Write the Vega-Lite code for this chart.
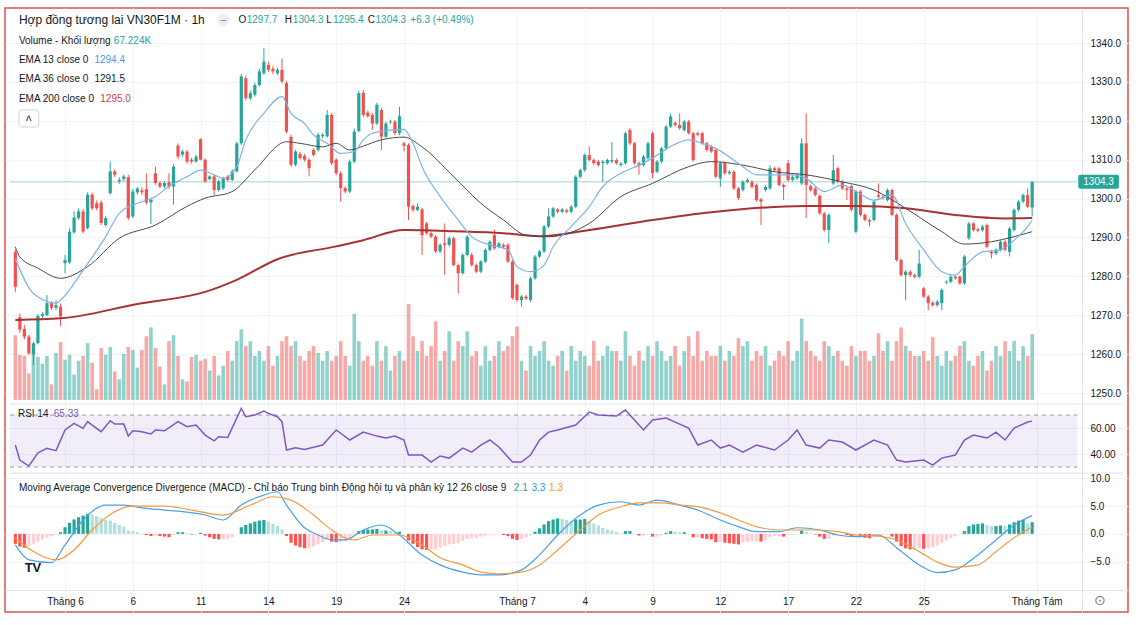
{
"$schema":"https://vega.github.io/schema/vega-lite/v6.json",
"width":1147,"height":625,
"autosize":{"type":"fit","contains":"padding"},
"padding":{"left":5,"top":8,"right":19,"bottom":13},
"background":"white",
"config":{"view":{"stroke":"#d9534f","strokeWidth":1.5},"font":"Liberation Sans"},
"datasets":{
"bars":[
{"i":0,"o":1286.3,"h":1287,"l":1276,"c":1277.3,"v":66,"m":-1.8},
{"i":1,"o":1269.5,"h":1270.5,"l":1265.5,"c":1266.3,"v":46,"m":-2.3},
{"i":2,"o":1266.5,"h":1267.5,"l":1263.8,"c":1264.5,"v":45,"m":-2.5},
{"i":3,"o":1264.5,"h":1265,"l":1259.8,"c":1260.2,"v":27,"m":-2.2},
{"i":4,"o":1260,"h":1263.2,"l":1257.2,"c":1262.8,"v":48,"m":-1.8},
{"i":5,"o":1262.8,"h":1270.3,"l":1262.5,"c":1269.8,"v":44,"m":-1.4},
{"i":6,"o":1269.8,"h":1270.8,"l":1269.2,"c":1270.3,"v":37,"m":-1},
{"i":7,"o":1270,"h":1275.2,"l":1269.8,"c":1273.1,"v":45,"m":-0.7},
{"i":8,"o":1273.1,"h":1273.6,"l":1271.4,"c":1271.9,"v":16,"m":-0.4},
{"i":9,"o":1271.9,"h":1273.8,"l":1271.3,"c":1272.6,"v":48,"m":-0.2},
{"i":10,"o":1272.2,"h":1273,"l":1267.2,"c":1269.7,"v":59,"m":0.3},
{"i":11,"o":1283.4,"h":1285.5,"l":1280.8,"c":1284.2,"v":41,"m":1.2},
{"i":12,"o":1283.6,"h":1292.4,"l":1283.2,"c":1291.5,"v":46,"m":2},
{"i":13,"o":1291.3,"h":1296.7,"l":1291,"c":1295.1,"v":26,"m":2.6},
{"i":14,"o":1295,"h":1297.5,"l":1294.5,"c":1296.7,"v":40,"m":3},
{"i":15,"o":1296.7,"h":1297.3,"l":1291,"c":1291.5,"v":45,"m":3.3},
{"i":16,"o":1292.4,"h":1301.6,"l":1292,"c":1301,"v":58,"m":3.6},
{"i":17,"o":1301,"h":1301.5,"l":1297,"c":1297.5,"v":38,"m":3.5},
{"i":18,"o":1298.8,"h":1299.5,"l":1297,"c":1297.5,"v":11,"m":3.2},
{"i":19,"o":1299,"h":1299.5,"l":1293.2,"c":1293.7,"v":53,"m":2.9},
{"i":20,"o":1293.2,"h":1295.5,"l":1292.8,"c":1295,"v":46,"m":2.5},
{"i":21,"o":1301.4,"h":1309.5,"l":1301,"c":1307,"v":54,"m":2.4},
{"i":22,"o":1307,"h":1307.5,"l":1305.5,"c":1306.1,"v":29,"m":2},
{"i":23,"o":1304.4,"h":1305.5,"l":1303.8,"c":1304.8,"v":21,"m":1.6},
{"i":24,"o":1305,"h":1306.2,"l":1304.5,"c":1305.7,"v":47,"m":1.3},
{"i":25,"o":1305.5,"h":1306.1,"l":1294.5,"c":1295,"v":54,"m":0.6},
{"i":26,"o":1295.4,"h":1302.5,"l":1295,"c":1301.8,"v":51,"m":0.5},
{"i":27,"o":1301.6,"h":1303,"l":1301,"c":1302.6,"v":33,"m":0.3},
{"i":28,"o":1302.1,"h":1302.8,"l":1300.9,"c":1301.6,"v":51,"m":0.1},
{"i":29,"o":1302.4,"h":1306.5,"l":1298.4,"c":1299,"v":65,"m":-0.2},
{"i":30,"o":1299,"h":1300.2,"l":1293.4,"c":1299.7,"v":74,"m":-0.4},
{"i":31,"o":1306.5,"h":1308.2,"l":1303.5,"c":1304,"v":53,"m":-0.3},
{"i":32,"o":1304,"h":1304.4,"l":1302.6,"c":1303.1,"v":34,"m":-0.4},
{"i":33,"o":1303.1,"h":1304.4,"l":1302.7,"c":1304,"v":16,"m":-0.5},
{"i":34,"o":1304.2,"h":1306.5,"l":1302.5,"c":1303.1,"v":60,"m":-0.6},
{"i":35,"o":1303.1,"h":1308.8,"l":1298.4,"c":1308.2,"v":66,"m":-0.2},
{"i":36,"o":1313.6,"h":1314.2,"l":1310.2,"c":1310.8,"v":45,"m":0.3},
{"i":37,"o":1311.3,"h":1312.5,"l":1310.8,"c":1312.1,"v":21,"m":0.3},
{"i":38,"o":1312.1,"h":1312.5,"l":1309,"c":1309.5,"v":19,"m":0.1},
{"i":39,"o":1310,"h":1310.5,"l":1309,"c":1309.5,"v":44,"m":-0.1},
{"i":40,"o":1309.5,"h":1311.2,"l":1309.2,"c":1310.8,"v":46,"m":-0.1},
{"i":41,"o":1315.3,"h":1315.5,"l":1309.8,"c":1310,"v":40,"m":0.2},
{"i":42,"o":1310,"h":1310.3,"l":1304,"c":1304.4,"v":42,"m":-0.3},
{"i":43,"o":1305,"h":1306,"l":1304.7,"c":1305.7,"v":30,"m":-0.6},
{"i":44,"o":1305.7,"h":1306,"l":1300.9,"c":1302.2,"v":45,"m":-0.9},
{"i":45,"o":1302.2,"h":1304.8,"l":1301.8,"c":1304.4,"v":25,"m":-1},
{"i":46,"o":1302.6,"h":1305.6,"l":1302.2,"c":1305.2,"v":35,"m":-1},
{"i":47,"o":1305.7,"h":1306,"l":1304.4,"c":1304.8,"v":50,"m":-0.9},
{"i":48,"o":1304.8,"h":1307.5,"l":1304.5,"c":1307,"v":40,"m":-0.6},
{"i":49,"o":1307,"h":1314.6,"l":1306.7,"c":1314.2,"v":60,"m":0},
{"i":50,"o":1314.2,"h":1332,"l":1313.8,"c":1331.4,"v":72,"m":1.2},
{"i":51,"o":1330.9,"h":1331.6,"l":1325.2,"c":1325.8,"v":55,"m":1.6},
{"i":52,"o":1325.8,"h":1327.8,"l":1325.3,"c":1327.1,"v":60,"m":1.9},
{"i":53,"o":1326.7,"h":1329.8,"l":1326.2,"c":1329.2,"v":45,"m":2.2},
{"i":54,"o":1329.2,"h":1333.3,"l":1328.8,"c":1332.7,"v":50,"m":2.4},
{"i":55,"o":1332.2,"h":1338.7,"l":1331.8,"c":1335.2,"v":40,"m":2.5},
{"i":56,"o":1334.4,"h":1335.2,"l":1332.5,"c":1333.1,"v":55,"m":2.2},
{"i":57,"o":1333.4,"h":1334,"l":1332,"c":1332.7,"v":35,"m":1.8},
{"i":58,"o":1332.2,"h":1333.6,"l":1331.7,"c":1333.1,"v":45,"m":1.4},
{"i":59,"o":1333.1,"h":1336,"l":1329.6,"c":1330.1,"v":60,"m":0.8},
{"i":60,"o":1329.7,"h":1330.2,"l":1316.8,"c":1317.2,"v":65,"m":-0.4},
{"i":61,"o":1315.9,"h":1316.4,"l":1308.2,"c":1308.7,"v":55,"m":-1.6},
{"i":62,"o":1308.7,"h":1312.5,"l":1308.3,"c":1312.1,"v":60,"m":-2.1},
{"i":63,"o":1311.5,"h":1312,"l":1310,"c":1310.4,"v":45,"m":-2.4},
{"i":64,"o":1311,"h":1311.5,"l":1309.5,"c":1310,"v":40,"m":-2.6},
{"i":65,"o":1310,"h":1310.4,"l":1305.7,"c":1307.8,"v":50,"m":-2.6},
{"i":66,"o":1312.5,"h":1313,"l":1310.8,"c":1311.2,"v":55,"m":-2.3},
{"i":67,"o":1312.5,"h":1316.9,"l":1312.1,"c":1316.4,"v":48,"m":-1.9},
{"i":68,"o":1316,"h":1316.9,"l":1315.5,"c":1316.4,"v":40,"m":-1.5},
{"i":69,"o":1316,"h":1322.8,"l":1315.6,"c":1321.5,"v":50,"m":-1},
{"i":70,"o":1321.5,"h":1322,"l":1308.6,"c":1309.1,"v":40,"m":-1.4},
{"i":71,"o":1310,"h":1310.4,"l":1306,"c":1306.5,"v":45,"m":-1.5},
{"i":72,"o":1306.5,"h":1307,"l":1299.2,"c":1302.7,"v":60,"m":-1.5},
{"i":73,"o":1302.7,"h":1303.2,"l":1301.3,"c":1301.8,"v":45,"m":-1.3},
{"i":74,"o":1301.8,"h":1310,"l":1301.4,"c":1309.5,"v":35,"m":-0.8},
{"i":75,"o":1309.5,"h":1318,"l":1309.1,"c":1317.2,"v":88,"m":-0.2},
{"i":76,"o":1317.4,"h":1327.7,"l":1317,"c":1327.1,"v":60,"m":0.5},
{"i":77,"o":1327.2,"h":1327.9,"l":1321,"c":1321.5,"v":40,"m":0.7},
{"i":78,"o":1322.1,"h":1322.6,"l":1320.8,"c":1321.2,"v":45,"m":0.8},
{"i":79,"o":1321.5,"h":1322,"l":1317.6,"c":1319.3,"v":35,"m":0.8},
{"i":80,"o":1319.3,"h":1324.6,"l":1318.9,"c":1324.1,"v":60,"m":0.9},
{"i":81,"o":1322.8,"h":1323.3,"l":1312.5,"c":1315.9,"v":40,"m":0.6},
{"i":82,"o":1315.9,"h":1319.8,"l":1315.5,"c":1319.3,"v":55,"m":0.6},
{"i":83,"o":1319.6,"h":1320.3,"l":1319.2,"c":1319.8,"v":30,"m":0.5},
{"i":84,"o":1319.8,"h":1320.2,"l":1316.3,"c":1316.8,"v":45,"m":0.3},
{"i":85,"o":1316.8,"h":1323.6,"l":1316.3,"c":1321.2,"v":50,"m":0.4},
{"i":86,"o":1314.2,"h":1314.6,"l":1312.1,"c":1313.6,"v":40,"m":0},
{"i":87,"o":1313.8,"h":1314.2,"l":1294.5,"c":1297.9,"v":98,"m":-1.2},
{"i":88,"o":1298.1,"h":1298.5,"l":1296.6,"c":1297.1,"v":65,"m":-1.8},
{"i":89,"o":1297.1,"h":1298.8,"l":1296.8,"c":1297.9,"v":50,"m":-2.4},
{"i":90,"o":1297.2,"h":1297.6,"l":1285.5,"c":1290.6,"v":60,"m":-2.8},
{"i":91,"o":1293.6,"h":1294,"l":1290.7,"c":1291.1,"v":45,"m":-2.9},
{"i":92,"o":1291.1,"h":1291.5,"l":1289.8,"c":1290.2,"v":55,"m":-2.8},
{"i":93,"o":1290.2,"h":1290.6,"l":1286,"c":1286.4,"v":80,"m":-2.8},
{"i":94,"o":1286.4,"h":1288.5,"l":1286,"c":1288.1,"v":40,"m":-2.5},
{"i":95,"o":1288.5,"h":1293.6,"l":1280.4,"c":1288.1,"v":50,"m":-2.2},
{"i":96,"o":1288.1,"h":1290.2,"l":1287.7,"c":1289.8,"v":70,"m":-1.9},
{"i":97,"o":1289.8,"h":1290.2,"l":1282.5,"c":1282.9,"v":40,"m":-1.8},
{"i":98,"o":1282.9,"h":1283.3,"l":1275.6,"c":1280.8,"v":60,"m":-1.7},
{"i":99,"o":1280.8,"h":1285.9,"l":1280.4,"c":1285.5,"v":55,"m":-1.3},
{"i":100,"o":1285.5,"h":1290.6,"l":1285.1,"c":1290.2,"v":70,"m":-0.9},
{"i":101,"o":1285.5,"h":1286,"l":1282.5,"c":1282.9,"v":45,"m":-0.8},
{"i":102,"o":1282.9,"h":1283.3,"l":1280.8,"c":1281.2,"v":50,"m":-0.7},
{"i":103,"o":1281.2,"h":1284.2,"l":1280.8,"c":1283.8,"v":35,"m":-0.5},
{"i":104,"o":1283.8,"h":1287.2,"l":1283.4,"c":1286.8,"v":55,"m":-0.3},
{"i":105,"o":1286.8,"h":1289.3,"l":1286.4,"c":1288.9,"v":40,"m":-0.1},
{"i":106,"o":1290.6,"h":1292,"l":1286.8,"c":1287.2,"v":45,"m":-0.1},
{"i":107,"o":1287.6,"h":1288.9,"l":1287.2,"c":1288.5,"v":60,"m":-0.1},
{"i":108,"o":1288.1,"h":1288.5,"l":1287.2,"c":1287.6,"v":50,"m":-0.2},
{"i":109,"o":1288.1,"h":1288.5,"l":1283.4,"c":1283.8,"v":55,"m":-0.4},
{"i":110,"o":1283.8,"h":1284.2,"l":1274,"c":1274.4,"v":65,"m":-0.9},
{"i":111,"o":1277.8,"h":1278.2,"l":1273.5,"c":1273.9,"v":75,"m":-1.1},
{"i":112,"o":1273.9,"h":1275.2,"l":1272.2,"c":1274.8,"v":40,"m":-0.9},
{"i":113,"o":1274.8,"h":1275.2,"l":1273.9,"c":1274.3,"v":30,"m":-0.7},
{"i":114,"o":1273.9,"h":1279.9,"l":1273.5,"c":1279.5,"v":55,"m":-0.3},
{"i":115,"o":1279.5,"h":1285.5,"l":1279.1,"c":1285.1,"v":45,"m":0.4},
{"i":116,"o":1285.1,"h":1286.8,"l":1284.7,"c":1286.4,"v":50,"m":1},
{"i":117,"o":1286.4,"h":1293.2,"l":1286,"c":1292.8,"v":60,"m":1.7},
{"i":118,"o":1292.8,"h":1297.5,"l":1292.4,"c":1295.4,"v":40,"m":2.3},
{"i":119,"o":1295.4,"h":1297.9,"l":1295,"c":1297.5,"v":35,"m":2.6},
{"i":120,"o":1297.2,"h":1297.6,"l":1296.2,"c":1296.6,"v":45,"m":2.8},
{"i":121,"o":1296.6,"h":1297.6,"l":1296.2,"c":1297.2,"v":50,"m":2.7},
{"i":122,"o":1297,"h":1297.4,"l":1296.2,"c":1296.6,"v":30,"m":2.5},
{"i":123,"o":1296.6,"h":1298.3,"l":1296.2,"c":1297.9,"v":55,"m":2.3},
{"i":124,"o":1297.9,"h":1306,"l":1297.5,"c":1305.6,"v":40,"m":2.6},
{"i":125,"o":1305.6,"h":1307.7,"l":1305.2,"c":1307.3,"v":50,"m":2.6},
{"i":126,"o":1307.3,"h":1311.6,"l":1306.9,"c":1311.2,"v":45,"m":2.7},
{"i":127,"o":1311.2,"h":1313.4,"l":1309.5,"c":1309.9,"v":35,"m":2.3},
{"i":128,"o":1309.9,"h":1310.3,"l":1308.7,"c":1309.1,"v":60,"m":1.9},
{"i":129,"o":1309.5,"h":1309.9,"l":1308.2,"c":1308.6,"v":40,"m":1.5},
{"i":130,"o":1309.1,"h":1309.9,"l":1304.3,"c":1309.5,"v":45,"m":1.1},
{"i":131,"o":1309.1,"h":1310.3,"l":1308.7,"c":1309.9,"v":55,"m":0.8},
{"i":132,"o":1309.5,"h":1314.6,"l":1309.1,"c":1309.9,"v":50,"m":0.6},
{"i":133,"o":1309.9,"h":1310.3,"l":1308.7,"c":1309.1,"v":50,"m":0.3},
{"i":134,"o":1308.6,"h":1309.4,"l":1308.2,"c":1309,"v":40,"m":0.1},
{"i":135,"o":1309.1,"h":1317.2,"l":1308.7,"c":1316.8,"v":70,"m":0.5},
{"i":136,"o":1317.6,"h":1318.1,"l":1313.8,"c":1314.2,"v":45,"m":0.5},
{"i":137,"o":1314.2,"h":1314.6,"l":1308.7,"c":1309.1,"v":35,"m":0.1},
{"i":138,"o":1309.1,"h":1309.5,"l":1306.1,"c":1308.4,"v":50,"m":-0.3},
{"i":139,"o":1308.6,"h":1311.2,"l":1308.2,"c":1310.8,"v":40,"m":-0.3},
{"i":140,"o":1310.4,"h":1314.6,"l":1310,"c":1314.2,"v":55,"m":-0.1},
{"i":141,"o":1316.8,"h":1317.2,"l":1305.2,"c":1306.5,"v":45,"m":-0.5},
{"i":142,"o":1306.9,"h":1309.9,"l":1306.5,"c":1309.5,"v":60,"m":-0.5},
{"i":143,"o":1309.5,"h":1313.3,"l":1309.1,"c":1312.9,"v":50,"m":-0.3},
{"i":144,"o":1312.9,"h":1318.9,"l":1312.5,"c":1318.5,"v":40,"m":0.2},
{"i":145,"o":1318.5,"h":1321.9,"l":1318.1,"c":1321.1,"v":45,"m":0.5},
{"i":146,"o":1319.5,"h":1319.9,"l":1318.5,"c":1318.9,"v":55,"m":0.4},
{"i":147,"o":1318.9,"h":1321.9,"l":1317.7,"c":1318.1,"v":35,"m":0.3},
{"i":148,"o":1317.6,"h":1320.2,"l":1317.2,"c":1319.8,"v":50,"m":0.3},
{"i":149,"o":1319.8,"h":1320.2,"l":1316.4,"c":1316.8,"v":65,"m":0},
{"i":150,"o":1316.8,"h":1317.2,"l":1309.5,"c":1309.9,"v":45,"m":-0.6},
{"i":151,"o":1316.8,"h":1317.2,"l":1316,"c":1316.4,"v":70,"m":-0.6},
{"i":152,"o":1316.8,"h":1317.2,"l":1313.8,"c":1314.2,"v":40,"m":-0.8},
{"i":153,"o":1314.2,"h":1314.6,"l":1312.1,"c":1312.5,"v":50,"m":-0.9},
{"i":154,"o":1313.4,"h":1313.8,"l":1311.7,"c":1312.1,"v":45,"m":-1},
{"i":155,"o":1312.5,"h":1312.9,"l":1305.2,"c":1305.6,"v":45,"m":-1.5},
{"i":156,"o":1305.2,"h":1309.5,"l":1303,"c":1309.1,"v":55,"m":-1.5},
{"i":157,"o":1309.1,"h":1309.5,"l":1306.1,"c":1306.5,"v":40,"m":-1.6},
{"i":158,"o":1306.5,"h":1307.3,"l":1306.1,"c":1306.9,"v":50,"m":-1.7},
{"i":159,"o":1306.9,"h":1307.3,"l":1302.2,"c":1302.6,"v":45,"m":-1.8},
{"i":160,"o":1302.6,"h":1303,"l":1299.6,"c":1300.1,"v":63,"m":-1.9},
{"i":161,"o":1302.2,"h":1304.7,"l":1301.8,"c":1304.3,"v":55,"m":-1.6},
{"i":162,"o":1304.3,"h":1305.2,"l":1303.9,"c":1304.8,"v":60,"m":-1.4},
{"i":163,"o":1304.3,"h":1304.7,"l":1302.6,"c":1303,"v":40,"m":-1.3},
{"i":164,"o":1303.5,"h":1303.9,"l":1299.2,"c":1299.6,"v":50,"m":-1.3},
{"i":165,"o":1299.8,"h":1300.2,"l":1293.2,"c":1299.2,"v":45,"m":-1.4},
{"i":166,"o":1302.2,"h":1303.4,"l":1301.8,"c":1303,"v":55,"m":-1.1},
{"i":167,"o":1302.6,"h":1308.6,"l":1302.2,"c":1307.8,"v":35,"m":-0.6},
{"i":168,"o":1307.8,"h":1308.2,"l":1306.9,"c":1307.3,"v":40,"m":-0.4},
{"i":169,"o":1307.8,"h":1308.2,"l":1303.1,"c":1303.5,"v":50,"m":-0.4},
{"i":170,"o":1303.5,"h":1303.9,"l":1299.6,"c":1303,"v":45,"m":-0.5},
{"i":171,"o":1309.1,"h":1309.9,"l":1304.4,"c":1304.8,"v":60,"m":-0.2},
{"i":172,"o":1304.8,"h":1306,"l":1304.4,"c":1305.6,"v":40,"m":-0.1},
{"i":173,"o":1305.2,"h":1306.5,"l":1304.8,"c":1306.1,"v":50,"m":0},
{"i":174,"o":1303.9,"h":1315.5,"l":1303.5,"c":1314.2,"v":83,"m":0.6},
{"i":175,"o":1314.2,"h":1321.9,"l":1295,"c":1303.5,"v":60,"m":0.3},
{"i":176,"o":1303.2,"h":1303.6,"l":1301.8,"c":1302.2,"v":50,"m":0.1},
{"i":177,"o":1302.6,"h":1303,"l":1300.5,"c":1300.9,"v":45,"m":-0.1},
{"i":178,"o":1300.7,"h":1301.1,"l":1295.8,"c":1296.2,"v":40,"m":-0.5},
{"i":179,"o":1296.2,"h":1296.6,"l":1291.5,"c":1291.9,"v":60,"m":-0.9},
{"i":180,"o":1291.9,"h":1296.2,"l":1288.5,"c":1295.8,"v":55,"m":-0.9},
{"i":181,"o":1303.9,"h":1311.2,"l":1303.5,"c":1307.3,"v":45,"m":-0.3},
{"i":182,"o":1307.8,"h":1308.2,"l":1303.9,"c":1304.3,"v":50,"m":-0.1},
{"i":183,"o":1304.3,"h":1304.7,"l":1302.2,"c":1302.6,"v":40,"m":-0.1},
{"i":184,"o":1302.6,"h":1303,"l":1299.6,"c":1302.2,"v":35,"m":-0.2},
{"i":185,"o":1303.2,"h":1303.6,"l":1296.7,"c":1297.1,"v":55,"m":-0.5},
{"i":186,"o":1291.5,"h":1302.2,"l":1291.1,"c":1301.8,"v":45,"m":-0.3},
{"i":187,"o":1301.8,"h":1302.2,"l":1295.4,"c":1295.8,"v":50,"m":-0.5},
{"i":188,"o":1295.8,"h":1296.2,"l":1294.1,"c":1294.5,"v":50,"m":-0.7},
{"i":189,"o":1294.5,"h":1294.9,"l":1292.8,"c":1294.1,"v":40,"m":-0.8},
{"i":190,"o":1294.5,"h":1299.6,"l":1294.1,"c":1299.2,"v":45,"m":-0.5},
{"i":191,"o":1300.9,"h":1303.9,"l":1300.1,"c":1300.5,"v":68,"m":-0.3},
{"i":192,"o":1300.5,"h":1300.9,"l":1299.7,"c":1300.1,"v":50,"m":-0.2},
{"i":193,"o":1299.6,"h":1302.6,"l":1299.2,"c":1302.2,"v":60,"m":-0.1},
{"i":194,"o":1302.2,"h":1302.6,"l":1295.4,"c":1295.8,"v":40,"m":-0.5},
{"i":195,"o":1295.8,"h":1296.2,"l":1283.8,"c":1284.2,"v":60,"m":-1.4},
{"i":196,"o":1284.2,"h":1284.6,"l":1279.9,"c":1280.3,"v":74,"m":-2.2},
{"i":197,"o":1280.3,"h":1281.6,"l":1273.9,"c":1281.2,"v":55,"m":-2.6},
{"i":198,"o":1281.2,"h":1281.6,"l":1279.9,"c":1280.3,"v":50,"m":-2.8},
{"i":199,"o":1280.3,"h":1280.7,"l":1279.5,"c":1279.9,"v":45,"m":-2.8},
{"i":200,"o":1279.9,"h":1286.8,"l":1279.5,"c":1283.3,"v":45,"m":-2.6},
{"i":201,"o":1276.9,"h":1277.3,"l":1274.4,"c":1274.8,"v":50,"m":-2.7},
{"i":202,"o":1274.8,"h":1275.2,"l":1271.3,"c":1273.1,"v":40,"m":-2.6},
{"i":203,"o":1273.2,"h":1273.6,"l":1272.2,"c":1272.6,"v":64,"m":-2.4},
{"i":204,"o":1272.6,"h":1273.9,"l":1272.2,"c":1273.5,"v":45,"m":-2.1},
{"i":205,"o":1273.1,"h":1276.9,"l":1271.3,"c":1276.5,"v":35,"m":-1.6},
{"i":206,"o":1278.4,"h":1279,"l":1278,"c":1278.6,"v":50,"m":-1.2},
{"i":207,"o":1278.6,"h":1280.3,"l":1278.2,"c":1279.9,"v":40,"m":-0.8},
{"i":208,"o":1279.9,"h":1280.3,"l":1279.1,"c":1279.5,"v":45,"m":-0.4},
{"i":209,"o":1279.9,"h":1280.3,"l":1277.8,"c":1278.2,"v":55,"m":-0.1},
{"i":210,"o":1278.2,"h":1285.5,"l":1277.8,"c":1285.1,"v":60,"m":0.5},
{"i":211,"o":1289.8,"h":1294,"l":1289.4,"c":1293.6,"v":40,"m":1.4},
{"i":212,"o":1293.6,"h":1294,"l":1291.5,"c":1291.9,"v":35,"m":1.7},
{"i":213,"o":1292.1,"h":1292.5,"l":1291.3,"c":1291.7,"v":45,"m":1.8},
{"i":214,"o":1291.9,"h":1293.2,"l":1291.5,"c":1292.8,"v":50,"m":1.9},
{"i":215,"o":1293.2,"h":1293.6,"l":1287.2,"c":1287.6,"v":30,"m":1.6},
{"i":216,"o":1286.3,"h":1286.7,"l":1284.6,"c":1285.9,"v":40,"m":1.4},
{"i":217,"o":1285.9,"h":1287.2,"l":1285.5,"c":1286.8,"v":55,"m":1.4},
{"i":218,"o":1286.8,"h":1289.3,"l":1286.4,"c":1288.9,"v":45,"m":1.5},
{"i":219,"o":1288.9,"h":1289.3,"l":1286.4,"c":1286.8,"v":60,"m":1.4},
{"i":220,"o":1286.3,"h":1292.7,"l":1285.1,"c":1292.3,"v":50,"m":1.7},
{"i":221,"o":1291.9,"h":1297.5,"l":1291.5,"c":1297.1,"v":60,"m":2.1},
{"i":222,"o":1297.1,"h":1299.6,"l":1296.7,"c":1299.2,"v":40,"m":2.4},
{"i":223,"o":1299.2,"h":1301.3,"l":1298.8,"c":1300.9,"v":55,"m":2.5},
{"i":224,"o":1300.9,"h":1302.6,"l":1297.5,"c":1297.9,"v":45,"m":1.9},
{"i":225,"o":1297.7,"h":1304.3,"l":1295.4,"c":1304.3,"v":67.224,"m":2.1}
],
"e200":[{"i":0,"v":1268.8},{"i":10,"v":1269.2},{"i":27,"v":1272.9},{"i":42,"v":1276},{"i":49,"v":1279.1},{"i":58,"v":1284.4},{"i":71,"v":1287.7},{"i":77,"v":1289.3},{"i":86,"v":1291.9},{"i":97,"v":1291.6},{"i":108,"v":1291.1},{"i":116,"v":1290.3},{"i":127,"v":1291.9},{"i":141,"v":1294.5},{"i":154,"v":1296.5},{"i":175,"v":1298.1},{"i":186,"v":1298.1},{"i":197,"v":1297.5},{"i":208,"v":1295.8},{"i":219,"v":1294.9},{"i":225,"v":1295}],
"e36":[{"i":0,"v":1287.6},{"i":1,"v":1285},{"i":5,"v":1282.1},{"i":10,"v":1279.5},{"i":16,"v":1282.5},{"i":23,"v":1289.8},{"i":31,"v":1293.2},{"i":38,"v":1298},{"i":42,"v":1300.1},{"i":48,"v":1301.8},{"i":53,"v":1307.4},{"i":60,"v":1314.6},{"i":63,"v":1314.2},{"i":68,"v":1313.3},{"i":71,"v":1314.2},{"i":74,"v":1312.5},{"i":77,"v":1313.5},{"i":81,"v":1315.1},{"i":86,"v":1315.8},{"i":90,"v":1313.3},{"i":97,"v":1305.6},{"i":103,"v":1298.8},{"i":108,"v":1294.5},{"i":113,"v":1290.6},{"i":118,"v":1290.2},{"i":127,"v":1293.6},{"i":134,"v":1300.5},{"i":141,"v":1303.9},{"i":149,"v":1308.2},{"i":154,"v":1309.5},{"i":161,"v":1308.6},{"i":168,"v":1306.9},{"i":175,"v":1306.1},{"i":183,"v":1304.3},{"i":190,"v":1302.2},{"i":197,"v":1297.5},{"i":205,"v":1291.5},{"i":210,"v":1288.3},{"i":216,"v":1288.9},{"i":221,"v":1290.2},{"i":225,"v":1291.5}],
"e13":[{"i":0,"v":1284.6},{"i":4,"v":1275.6},{"i":9,"v":1273.1},{"i":10,"v":1273.9},{"i":15,"v":1281.6},{"i":20,"v":1290.2},{"i":23,"v":1296.2},{"i":27,"v":1298.8},{"i":31,"v":1300.5},{"i":34,"v":1303.1},{"i":38,"v":1305.6},{"i":41,"v":1307.3},{"i":44,"v":1306.1},{"i":46,"v":1305.2},{"i":49,"v":1308.2},{"i":51,"v":1315.1},{"i":55,"v":1321.9},{"i":59,"v":1326.2},{"i":61,"v":1321.9},{"i":64,"v":1319.3},{"i":66,"v":1316.3},{"i":69,"v":1314.2},{"i":72,"v":1311.6},{"i":75,"v":1312.1},{"i":77,"v":1315.1},{"i":79,"v":1316.8},{"i":83,"v":1317.6},{"i":86,"v":1317.8},{"i":88,"v":1314.2},{"i":90,"v":1308.2},{"i":94,"v":1300.5},{"i":98,"v":1294.5},{"i":101,"v":1290.2},{"i":105,"v":1288.1},{"i":109,"v":1286.8},{"i":111,"v":1282.5},{"i":114,"v":1281.2},{"i":117,"v":1282.9},{"i":119,"v":1287.6},{"i":123,"v":1292.8},{"i":127,"v":1297.9},{"i":130,"v":1303.1},{"i":134,"v":1306.5},{"i":138,"v":1308.6},{"i":141,"v":1310.4},{"i":145,"v":1313.4},{"i":149,"v":1315.1},{"i":152,"v":1314.2},{"i":155,"v":1312.9},{"i":161,"v":1308.2},{"i":164,"v":1306.1},{"i":168,"v":1306.1},{"i":172,"v":1306.1},{"i":175,"v":1305.2},{"i":179,"v":1301.8},{"i":183,"v":1303.5},{"i":186,"v":1301.8},{"i":190,"v":1299.6},{"i":194,"v":1300.9},{"i":197,"v":1293.6},{"i":201,"v":1286.8},{"i":205,"v":1281.2},{"i":208,"v":1280.3},{"i":210,"v":1282.5},{"i":214,"v":1286.3},{"i":218,"v":1286.8},{"i":221,"v":1289.3},{"i":224,"v":1292.8},{"i":225,"v":1294.4}],
"rsi":[{"i":0,"v":46.9},{"i":1,"v":35.4},{"i":3,"v":30.8},{"i":5,"v":41},{"i":7,"v":44.4},{"i":9,"v":42.6},{"i":11,"v":58.5},{"i":13,"v":63.6},{"i":15,"v":59.8},{"i":16,"v":64.9},{"i":17,"v":62.3},{"i":19,"v":57.2},{"i":21,"v":65.6},{"i":22,"v":63.1},{"i":24,"v":63.1},{"i":25,"v":53.8},{"i":26,"v":57.9},{"i":28,"v":57.2},{"i":30,"v":55.4},{"i":31,"v":58.5},{"i":33,"v":57.9},{"i":36,"v":64.9},{"i":38,"v":61},{"i":40,"v":62.3},{"i":42,"v":54.6},{"i":44,"v":50.2},{"i":45,"v":53.3},{"i":47,"v":52.8},{"i":50,"v":75.1},{"i":51,"v":68.7},{"i":53,"v":70},{"i":55,"v":73.1},{"i":56,"v":71.3},{"i":58,"v":68.7},{"i":59,"v":64.9},{"i":60,"v":43.1},{"i":62,"v":44.9},{"i":64,"v":43.6},{"i":68,"v":46.9},{"i":71,"v":58.5},{"i":74,"v":50.8},{"i":77,"v":56.9},{"i":80,"v":53.8},{"i":82,"v":52.3},{"i":84,"v":53.8},{"i":86,"v":50.8},{"i":87,"v":39.2},{"i":90,"v":39.2},{"i":92,"v":33.8},{"i":94,"v":38.5},{"i":96,"v":36.9},{"i":99,"v":44.6},{"i":101,"v":41.5},{"i":103,"v":46.9},{"i":105,"v":50.8},{"i":107,"v":45.4},{"i":110,"v":33.8},{"i":112,"v":33.8},{"i":114,"v":39.2},{"i":116,"v":50.8},{"i":118,"v":56.9},{"i":120,"v":58.5},{"i":124,"v":62.3},{"i":127,"v":72.3},{"i":129,"v":70},{"i":133,"v":69.2},{"i":135,"v":73.8},{"i":137,"v":66.2},{"i":139,"v":58.5},{"i":141,"v":66.2},{"i":144,"v":67.7},{"i":146,"v":64.6},{"i":149,"v":60},{"i":151,"v":46.9},{"i":154,"v":50.8},{"i":156,"v":44.6},{"i":158,"v":46.9},{"i":161,"v":41.5},{"i":164,"v":46.9},{"i":168,"v":43.1},{"i":171,"v":50.8},{"i":173,"v":58.5},{"i":175,"v":46.9},{"i":178,"v":44.6},{"i":180,"v":50.8},{"i":183,"v":49.2},{"i":186,"v":43.1},{"i":190,"v":50.8},{"i":193,"v":46.9},{"i":195,"v":35.4},{"i":197,"v":33.8},{"i":201,"v":35.4},{"i":203,"v":31.5},{"i":205,"v":36.9},{"i":208,"v":39.2},{"i":210,"v":50.8},{"i":212,"v":54.6},{"i":215,"v":52.3},{"i":217,"v":56.9},{"i":219,"v":50.8},{"i":221,"v":60},{"i":224,"v":64.6},{"i":225,"v":65.33}],
"macd":[{"i":0,"v":-2},{"i":3,"v":-4.7},{"i":8,"v":-5.2},{"i":11,"v":-2},{"i":15,"v":2.5},{"i":20,"v":5.2},{"i":24,"v":5.2},{"i":28,"v":4.7},{"i":33,"v":4.3},{"i":37,"v":4},{"i":42,"v":3.4},{"i":46,"v":2.5},{"i":50,"v":5.2},{"i":55,"v":7},{"i":58,"v":7.6},{"i":60,"v":5.2},{"i":64,"v":1.1},{"i":67,"v":-0.2},{"i":70,"v":-1.1},{"i":73,"v":-1.1},{"i":77,"v":0.7},{"i":81,"v":1.6},{"i":85,"v":-0.2},{"i":90,"v":-3.8},{"i":94,"v":-5.6},{"i":99,"v":-6.9},{"i":103,"v":-7.4},{"i":107,"v":-7.4},{"i":112,"v":-6.5},{"i":116,"v":-3.8},{"i":120,"v":-0.2},{"i":125,"v":3.4},{"i":129,"v":5.2},{"i":134,"v":5.8},{"i":138,"v":5.2},{"i":142,"v":6.1},{"i":147,"v":5.2},{"i":151,"v":4.3},{"i":156,"v":2.5},{"i":160,"v":1.3},{"i":164,"v":0.4},{"i":169,"v":0.4},{"i":173,"v":1.1},{"i":178,"v":0.7},{"i":182,"v":-0.2},{"i":186,"v":-0.5},{"i":191,"v":-0.2},{"i":195,"v":-2.5},{"i":200,"v":-5.6},{"i":204,"v":-7},{"i":208,"v":-6.5},{"i":213,"v":-3.8},{"i":217,"v":-1.1},{"i":221,"v":1.6},{"i":225,"v":3.3}],
"sig":[{"i":0,"v":-0.7},{"i":4,"v":-3.2},{"i":9,"v":-4.7},{"i":13,"v":-2.9},{"i":17,"v":0.7},{"i":22,"v":4},{"i":26,"v":5},{"i":33,"v":5},{"i":39,"v":4.3},{"i":46,"v":3.4},{"i":52,"v":5.2},{"i":57,"v":6.7},{"i":61,"v":6.1},{"i":66,"v":3.4},{"i":70,"v":0.7},{"i":75,"v":-1.1},{"i":79,"v":-0.2},{"i":85,"v":-0.2},{"i":90,"v":-2},{"i":94,"v":-4.3},{"i":99,"v":-5.6},{"i":103,"v":-6.9},{"i":107,"v":-7.2},{"i":112,"v":-6.9},{"i":116,"v":-5.6},{"i":120,"v":-2.9},{"i":125,"v":0.7},{"i":129,"v":3.4},{"i":134,"v":4.9},{"i":138,"v":5.6},{"i":143,"v":5.6},{"i":147,"v":5.2},{"i":151,"v":4.9},{"i":156,"v":3.8},{"i":160,"v":2.5},{"i":164,"v":1.3},{"i":169,"v":0.7},{"i":173,"v":0.7},{"i":178,"v":0.7},{"i":182,"v":0.4},{"i":186,"v":-0.2},{"i":191,"v":-0.4},{"i":195,"v":-1.1},{"i":200,"v":-3.2},{"i":204,"v":-5.1},{"i":208,"v":-6},{"i":213,"v":-5.6},{"i":217,"v":-3.2},{"i":221,"v":-0.7},{"i":225,"v":1.3}]
},
"data":{"name":"bars"},
"layer":[
{"mark":{"type":"bar","width":3.6,"opacity":0.5},"encoding":{"x":{"field":"i","type":"quantitative","scale":{"domain":[-1.18,245.1],"nice":false,"zero":false},"axis":{"orient":"bottom","offset":-22,"values":[11,26,41,56,71,86,111,126,141,156,171,186,201,226],"labelExpr":"datum.value==11?'Tháng 6':datum.value==26?'6':datum.value==41?'11':datum.value==56?'14':datum.value==71?'19':datum.value==86?'24':datum.value==111?'Tháng 7':datum.value==126?'4':datum.value==141?'9':datum.value==156?'12':datum.value==171?'17':datum.value==186?'22':datum.value==201?'25':'Tháng Tám'","grid":true,"gridColor":"#f0f3fa","domain":true,"domainColor":"#e0e3eb","ticks":false,"labelPadding":6,"labelFontSize":10,"labelColor":"#131722","labelFont":"Liberation Sans","labelOverlap":false,"labelFlush":false,"title":null}},"y":{"field":"v","type":"quantitative","scale":{"domain":[-216.3,399.8],"nice":false,"zero":false},"axis":null},"y2":{"datum":0},"color":{"condition":{"test":"datum.c>=datum.o","value":"#26a69a"},"value":"#ef5350"}}},
{"layer":[
{"mark":{"type":"rule","strokeWidth":1},"encoding":{"x":{"field":"i","type":"quantitative"},"y":{"field":"l","type":"quantitative","scale":{"domain":[1193.69,1349.0],"nice":false,"zero":false},"axis":{"orient":"right","offset":-46,"values":[1250,1260,1270,1280,1290,1300,1310,1320,1330,1340],"format":".1f","grid":true,"gridColor":"#f0f3fa","domain":true,"domainColor":"#e0e3eb","ticks":false,"labelPadding":8,"labelFontSize":10,"labelColor":"#131722","labelFont":"Liberation Sans","title":null}},"y2":{"field":"h"},"color":{"condition":{"test":"datum.c>=datum.o","value":"#26a69a"},"value":"#ef5350"}}},
{"mark":{"type":"bar","width":3.2},"encoding":{"x":{"field":"i","type":"quantitative"},"y":{"field":"o","type":"quantitative"},"y2":{"field":"c"},"color":{"condition":{"test":"datum.c>=datum.o","value":"#26a69a"},"value":"#ef5350"}}},
{"data":{"name":"e200"},"mark":{"type":"line","color":"#a83232","strokeWidth":2,"interpolate":"monotone"},"encoding":{"x":{"field":"i","type":"quantitative"},"y":{"field":"v","type":"quantitative"}}},
{"data":{"name":"e36"},"mark":{"type":"line","color":"#4a4a4a","strokeWidth":1,"interpolate":"monotone"},"encoding":{"x":{"field":"i","type":"quantitative"},"y":{"field":"v","type":"quantitative"}}},
{"data":{"name":"e13"},"mark":{"type":"line","color":"#7fb3e6","strokeWidth":1.2,"interpolate":"monotone"},"encoding":{"x":{"field":"i","type":"quantitative"},"y":{"field":"v","type":"quantitative"}}},
{"data":{"values":[{}]},"mark":{"type":"rule","color":"#26a69a","opacity":0.45,"strokeWidth":1},"encoding":{"x":{"datum":-1.18},"x2":{"datum":235},"y":{"datum":1304.3}}},
{"data":{"values":[{}]},"mark":{"type":"rect","color":"#26a69a","cornerRadius":2},"encoding":{"x":{"datum":235.2},"x2":{"datum":244.2},"y":{"datum":1302.5},"y2":{"datum":1306.1}}},
{"data":{"values":[{}]},"mark":{"type":"text","text":"1304.3","align":"center","baseline":"middle","fontSize":10,"color":"white"},"encoding":{"x":{"datum":239.7},"y":{"datum":1304.3}}},
{"data":{"values":[{}]},"mark":{"type":"text","text":"Hợp đồng tương lai VN30F1M · 1h","align":"left","baseline":"middle","fontSize":12,"color":"#131722"},"encoding":{"x":{"datum":0.79},"y":{"datum":1345.9}}},
{"data":{"values":[{}]},"mark":{"type":"point","filled":true,"color":"#eceef2","size":160,"opacity":1},"encoding":{"x":{"datum":46},"y":{"datum":1345.9}}},
{"data":{"values":[{}]},"mark":{"type":"text","text":"–","align":"center","baseline":"middle","fontSize":10,"color":"#787b86"},"encoding":{"x":{"datum":46},"y":{"datum":1345.9}}},
{"data":{"values":[{}]},"mark":{"type":"text","text":"O","align":"left","baseline":"middle","fontSize":10,"color":"#131722"},"encoding":{"x":{"datum":49.4},"y":{"datum":1345.9}}},
{"data":{"values":[{}]},"mark":{"type":"text","text":"1297.7","align":"left","baseline":"middle","fontSize":10,"color":"#26a69a"},"encoding":{"x":{"datum":51.2},"y":{"datum":1345.9}}},
{"data":{"values":[{}]},"mark":{"type":"text","text":"H","align":"left","baseline":"middle","fontSize":10,"color":"#131722"},"encoding":{"x":{"datum":59.6},"y":{"datum":1345.9}}},
{"data":{"values":[{}]},"mark":{"type":"text","text":"1304.3","align":"left","baseline":"middle","fontSize":10,"color":"#26a69a"},"encoding":{"x":{"datum":61.4},"y":{"datum":1345.9}}},
{"data":{"values":[{}]},"mark":{"type":"text","text":"L","align":"left","baseline":"middle","fontSize":10,"color":"#131722"},"encoding":{"x":{"datum":68.8},"y":{"datum":1345.9}}},
{"data":{"values":[{}]},"mark":{"type":"text","text":"1295.4","align":"left","baseline":"middle","fontSize":10,"color":"#26a69a"},"encoding":{"x":{"datum":70.3},"y":{"datum":1345.9}}},
{"data":{"values":[{}]},"mark":{"type":"text","text":"C","align":"left","baseline":"middle","fontSize":10,"color":"#131722"},"encoding":{"x":{"datum":78},"y":{"datum":1345.9}}},
{"data":{"values":[{}]},"mark":{"type":"text","text":"1304.3","align":"left","baseline":"middle","fontSize":10,"color":"#26a69a"},"encoding":{"x":{"datum":79.7},"y":{"datum":1345.9}}},
{"data":{"values":[{}]},"mark":{"type":"text","text":"+6.3 (+0.49%)","align":"left","baseline":"middle","fontSize":10,"color":"#26a69a"},"encoding":{"x":{"datum":87.4},"y":{"datum":1345.9}}},
{"data":{"values":[{}]},"mark":{"type":"text","text":"Volume - Khối lượng","align":"left","baseline":"middle","fontSize":10,"color":"#131722"},"encoding":{"x":{"datum":0.79},"y":{"datum":1340.5}}},
{"data":{"values":[{}]},"mark":{"type":"text","text":"67.224K","align":"left","baseline":"middle","fontSize":10,"color":"#26a69a"},"encoding":{"x":{"datum":21.8},"y":{"datum":1340.5}}},
{"data":{"values":[{}]},"mark":{"type":"text","text":"EMA 13 close 0","align":"left","baseline":"middle","fontSize":10,"color":"#131722"},"encoding":{"x":{"datum":0.79},"y":{"datum":1335.6}}},
{"data":{"values":[{}]},"mark":{"type":"text","text":"1294.4","align":"left","baseline":"middle","fontSize":10,"color":"#4f97e6"},"encoding":{"x":{"datum":17.5},"y":{"datum":1335.6}}},
{"data":{"values":[{}]},"mark":{"type":"text","text":"EMA 36 close 0","align":"left","baseline":"middle","fontSize":10,"color":"#131722"},"encoding":{"x":{"datum":0.79},"y":{"datum":1330.7}}},
{"data":{"values":[{}]},"mark":{"type":"text","text":"1291.5","align":"left","baseline":"middle","fontSize":10,"color":"#131722"},"encoding":{"x":{"datum":17.5},"y":{"datum":1330.7}}},
{"data":{"values":[{}]},"mark":{"type":"text","text":"EMA 200 close 0","align":"left","baseline":"middle","fontSize":10,"color":"#131722"},"encoding":{"x":{"datum":0.79},"y":{"datum":1325.6}}},
{"data":{"values":[{}]},"mark":{"type":"text","text":"1295.0","align":"left","baseline":"middle","fontSize":10,"color":"#c8453c"},"encoding":{"x":{"datum":18.8},"y":{"datum":1325.6}}},
{"data":{"values":[{}]},"mark":{"type":"rect","fill":"white","stroke":"#d1d4dc","strokeWidth":1,"cornerRadius":3},"encoding":{"x":{"datum":0.79},"x2":{"datum":5.18},"y":{"datum":1318.4},"y2":{"datum":1322.8}}},
{"data":{"values":[{}]},"mark":{"type":"text","text":"˄","align":"center","baseline":"middle","fontSize":11,"color":"#131722"},"encoding":{"x":{"datum":2.98},"y":{"datum":1320.5}}}
]},
{"layer":[
{"data":{"values":[{}]},"mark":{"type":"rect","color":"#7e57c2","opacity":0.1},"encoding":{"x":{"datum":-1.18},"x2":{"datum":235},"y":{"datum":30,"scale":{"domain":[-81.5,383.1],"nice":false,"zero":false},"axis":{"orient":"right","offset":-46,"values":[40,60],"format":".2f","grid":true,"gridColor":"#f0f3fa","domain":false,"ticks":false,"labelPadding":8,"labelFontSize":10,"labelColor":"#131722","labelFont":"Liberation Sans","title":null}},"y2":{"datum":70}}},
{"data":{"values":[{}]},"mark":{"type":"rule","color":"#9598a1","strokeDash":[4,4],"strokeWidth":1},"encoding":{"x":{"datum":-1.18},"x2":{"datum":235},"y":{"datum":70}}},
{"data":{"values":[{}]},"mark":{"type":"rule","color":"#9598a1","strokeDash":[4,4],"strokeWidth":1},"encoding":{"x":{"datum":-1.18},"x2":{"datum":235},"y":{"datum":30}}},
{"data":{"values":[{}]},"mark":{"type":"rule","color":"#e0e3eb","strokeWidth":1},"encoding":{"x":{"datum":-1.18},"x2":{"datum":245.1},"y":{"datum":78.5}}},
{"data":{"values":[{}]},"mark":{"type":"rule","color":"#e0e3eb","strokeWidth":1},"encoding":{"x":{"datum":-1.18},"x2":{"datum":245.1},"y":{"datum":25.4}}},
{"data":{"name":"rsi"},"mark":{"type":"line","color":"#7e57c2","strokeWidth":1.5},"encoding":{"x":{"field":"i","type":"quantitative"},"y":{"field":"v","type":"quantitative"}}},
{"data":{"values":[{}]},"mark":{"type":"text","text":"RSI 14","align":"left","baseline":"middle","fontSize":10,"color":"#131722"},"encoding":{"x":{"datum":0.57},"y":{"datum":70.8}}},
{"data":{"values":[{}]},"mark":{"type":"text","text":"65.33","align":"left","baseline":"middle","fontSize":10,"color":"#7e57c2"},"encoding":{"x":{"datum":8.5},"y":{"datum":70.8}}}
]},
{"layer":[
{"transform":[{"window":[{"op":"lag","field":"m","as":"pm"}],"sort":[{"field":"i"}]}],"mark":{"type":"bar","width":3.2},"encoding":{"x":{"field":"i","type":"quantitative"},"y":{"field":"m","type":"quantitative","scale":{"domain":[-14.1,94.9],"nice":false,"zero":false},"axis":{"orient":"right","offset":-46,"values":[-5,0,5,10],"format":".1f","grid":true,"gridColor":"#f0f3fa","domain":false,"ticks":false,"labelPadding":8,"labelFontSize":10,"labelColor":"#131722","labelFont":"Liberation Sans","title":null}},"y2":{"datum":0},"color":{"condition":[{"test":"datum.m>=0 && datum.m>=datum.pm","value":"#26a69a"},{"test":"datum.m>=0","value":"#b2dfdb"},{"test":"datum.m<datum.pm","value":"#ff5252"}],"value":"#ffcdd2"}}},
{"data":{"name":"macd"},"mark":{"type":"line","color":"#4a9fe8","strokeWidth":1.2,"interpolate":"monotone"},"encoding":{"x":{"field":"i","type":"quantitative"},"y":{"field":"v","type":"quantitative"}}},
{"data":{"name":"sig"},"mark":{"type":"line","color":"#f39a3e","strokeWidth":1.2,"interpolate":"monotone"},"encoding":{"x":{"field":"i","type":"quantitative"},"y":{"field":"v","type":"quantitative"}}},
{"data":{"values":[{}]},"mark":{"type":"text","text":"Moving Average Convergence Divergence (MACD) - Chỉ báo Trung bình Động hội tụ và phân kỳ 12 26 close 9","align":"left","baseline":"middle","fontSize":10,"color":"#131722"},"encoding":{"x":{"datum":0.79},"y":{"datum":8.3}}},
{"data":{"values":[{}]},"mark":{"type":"text","text":"2.1","align":"left","baseline":"middle","fontSize":10,"color":"#26a69a"},"encoding":{"x":{"datum":110.3},"y":{"datum":8.3}}},
{"data":{"values":[{}]},"mark":{"type":"text","text":"3.3","align":"left","baseline":"middle","fontSize":10,"color":"#2196f3"},"encoding":{"x":{"datum":114.2},"y":{"datum":8.3}}},
{"data":{"values":[{}]},"mark":{"type":"text","text":"1.3","align":"left","baseline":"middle","fontSize":10,"color":"#ff9800"},"encoding":{"x":{"datum":118.1},"y":{"datum":8.3}}},
{"data":{"values":[{}]},"mark":{"type":"text","text":"TV","align":"center","baseline":"middle","fontSize":13,"fontWeight":"bold","color":"#131722"},"encoding":{"x":{"datum":3.9},"y":{"datum":-6.1}}},
{"data":{"values":[{}]},"mark":{"type":"text","text":"⊙","align":"center","baseline":"middle","fontSize":14,"color":"#787b86"},"encoding":{"x":{"datum":240.1},"y":{"datum":-12.1}}}
]}
],
"resolve":{"scale":{"y":"independent"},"axis":{"y":"independent"}}
}
